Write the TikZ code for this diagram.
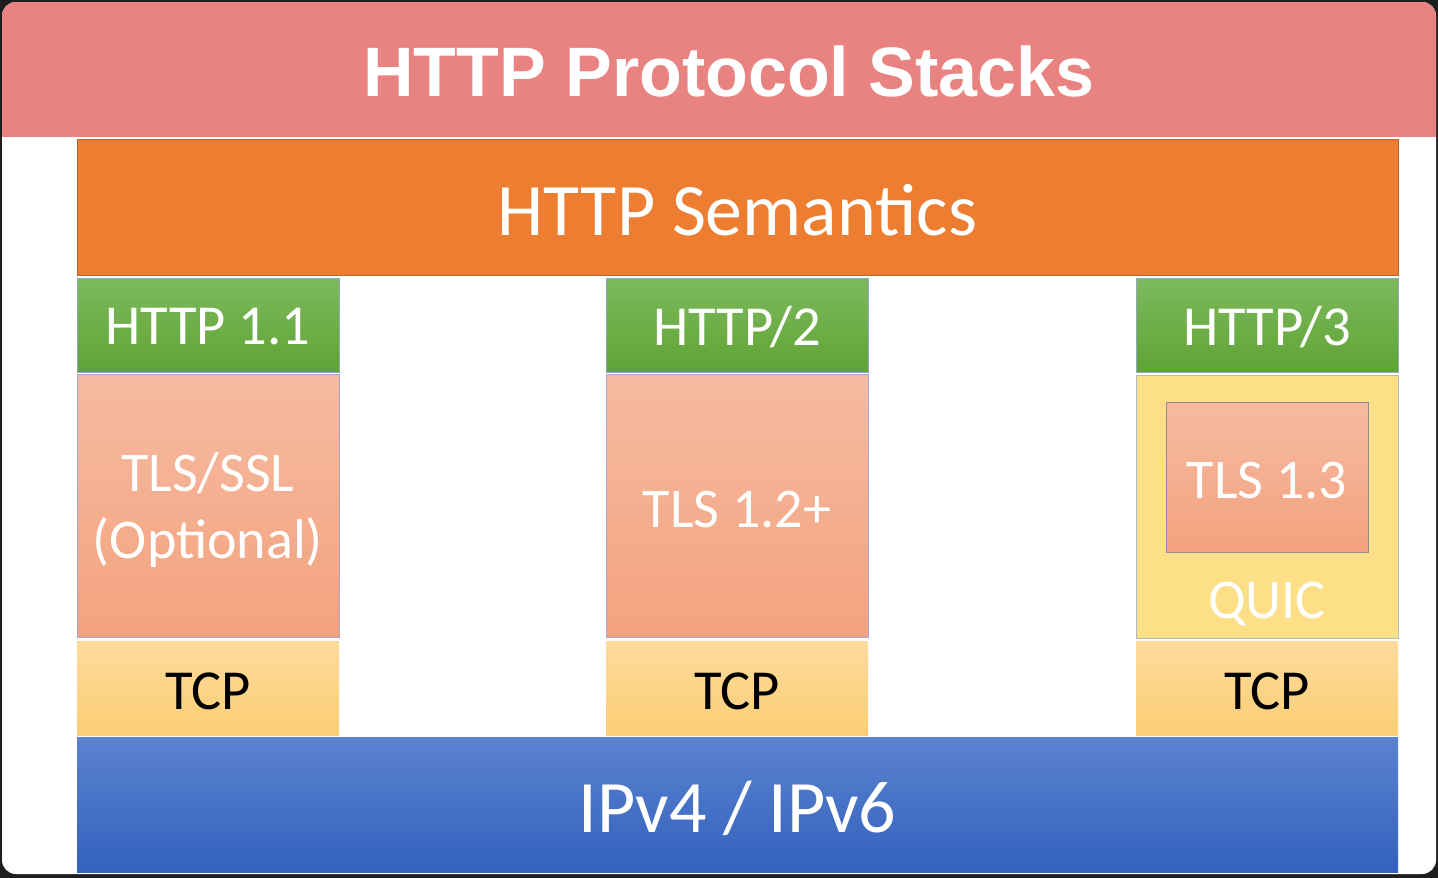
\documentclass[tikz,border=0pt]{standalone}
\usepackage{fontspec}
\setmainfont{Carlito}
\newfontfamily\titlefont{Liberation Sans}
\usetikzlibrary{positioning}
\definecolor{framedark}{HTML}{1E1E1E}
\definecolor{titlepink}{HTML}{E88381}
\definecolor{semorange}{HTML}{ED7D31}
\definecolor{greentop}{HTML}{7EBA5E}
\definecolor{greenbot}{HTML}{5FA334}
\definecolor{greenedge}{HTML}{8FA8C0}
\definecolor{tlstop}{HTML}{F5BBA2}
\definecolor{tlsbot}{HTML}{F4A27D}
\definecolor{tlsedge}{HTML}{A9A6D6}
\definecolor{tcptop}{HTML}{FEDB9C}
\definecolor{tcpbot}{HTML}{FBCE76}
\definecolor{iptop}{HTML}{5B82CF}
\definecolor{ipbot}{HTML}{3262BD}
\definecolor{quicfill}{HTML}{FDDF87}
\definecolor{quicedge}{HTML}{B3B8C8}
\definecolor{tls13edge}{HTML}{8C8C9C}
\newcommand{\lowr}[2][4pt]{\raisebox{-#1}[\height][\depth]{#2}}
\tikzset{
  layer/.style={anchor=north west, inner sep=0pt, outer sep=0pt, align=center},
  semlayer/.style={layer, fill=semorange, draw=semorange!80!black, line width=0.6pt,
    text=white, font=\fontsize{74}{80}\selectfont},
  verlayer/.style={layer, top color=greentop, bottom color=greenbot, draw=greenedge, line width=0.6pt,
    text=white, font=\fontsize{56.5}{60}\selectfont, minimum width=262pt, minimum height=94pt},
  tlslayer/.style={layer, top color=tlstop, bottom color=tlsbot, draw=tlsedge, line width=0.7pt,
    text=white, font=\fontsize{56}{67}\selectfont},
  tcplayer/.style={layer, top color=tcptop, bottom color=tcpbot,
    text=black, font=\fontsize{56.5}{60}\selectfont, minimum width=262pt, minimum height=94pt},
  iplayer/.style={layer, top color=iptop, bottom color=ipbot,
    text=white, font=\fontsize{74}{80}\selectfont},
  quiclayer/.style={layer, fill=quicfill, draw=quicedge, line width=0.7pt},
  lbl/.style={inner sep=0pt, text=white},
}
\begin{document}
\begin{tikzpicture}[x=1pt,y=-1pt]
  \useasboundingbox (0,0) rectangle (1438,878);
  % window frame
  \fill[framedark] (0,0) rectangle (1438,878);
  \fill[white, rounded corners=14pt] (2,2) rectangle (1436,874);
  % title band
  \begin{scope}
    \clip[rounded corners=14pt] (2,2) rectangle (1436,874);
    \fill[titlepink] (2,2) rectangle (1436,137);
  \end{scope}
  \node[lbl, font=\titlefont\bfseries\fontsize{70}{76}\selectfont] (title) at (729,71) {HTTP Protocol Stacks};
  % HTTP semantics
  \node[semlayer, minimum width=1321pt, minimum height=136pt] (sem) at (77,139) {\lowr[3pt]{HTTP Semantics}};
  % version boxes
  \node[verlayer] (h11) at (77,278) {\lowr[2pt]{HTTP 1.1}};
  \node[verlayer] (h2) at (606,278) {\lowr[2pt]{HTTP/2}};
  \node[verlayer] (h3) at (1136,278) {\lowr[2pt]{HTTP/3}};
  % TLS boxes
  \node[tlslayer, minimum width=262pt, minimum height=263pt] (tlsssl) at (77,374)
    {\lowr[6pt]{\begin{tabular}{@{}c@{}}TLS/SSL\\(Optional)\end{tabular}}};
  \node[tlslayer, minimum width=262pt, minimum height=263pt] (tls12) at (606,374) {\lowr{TLS 1.2+}};
  % QUIC
  \node[quiclayer, minimum width=262pt, minimum height=263pt] (quic) at (1136,375) {};
  \node[tlslayer, draw=tls13edge, minimum width=202pt, minimum height=150pt] (tls13) at (1166,402) {\lowr{TLS 1.3}};
  \node[lbl, font=\fontsize{56}{60}\selectfont] (quiclbl) at (1267,604) {QUIC};
  % TCP
  \node[tcplayer] (tcp1) at (77,641) {\lowr[3pt]{TCP}};
  \node[tcplayer] (tcp2) at (606,641) {\lowr[3pt]{TCP}};
  \node[tcplayer] (tcp3) at (1136,641) {\lowr[3pt]{TCP}};
  % IP
  \node[iplayer, minimum width=1321pt, minimum height=135pt] (ip) at (77,737) {\lowr{IPv4 / IPv6}};
\end{tikzpicture}
\end{document}
